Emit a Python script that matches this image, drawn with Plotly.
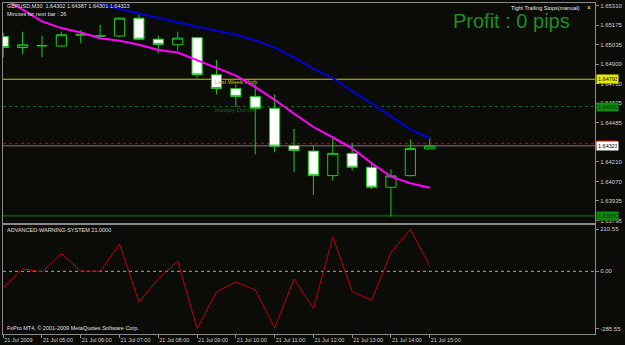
import plotly.graph_objects as go

# ---------------- data ----------------
bar_times = ["04:00", "04:30", "05:00", "05:30", "06:00", "06:30", "07:00", "07:30",
             "08:00", "08:30", "09:00", "09:30", "10:00", "10:30", "11:00", "11:30",
             "12:00", "12:30", "13:00", "13:30", "14:00", "14:30", "15:00"]
opens = [1.65095, 1.65017, 1.65029, 1.65027, 1.65105, 1.65098, 1.65098, 1.65224, 1.65076,
         1.65036, 1.65086, 1.64824, 1.64728, 1.64672, 1.64588, 1.64326, 1.64286, 1.64113,
         1.64270, 1.64172, 1.64031, 1.64113, 1.64302]
highs = [1.65123, 1.65128, 1.65100, 1.65128, 1.65140, 1.65177, 1.65228, 1.65247, 1.65100,
         1.65128, 1.65093, 1.64929, 1.64756, 1.64761, 1.64686, 1.64442, 1.64328, 1.64375,
         1.64340, 1.64200, 1.64158, 1.64368, 1.64387]
lows = [1.64947, 1.64971, 1.64947, 1.65024, 1.65046, 1.65095, 1.65090, 1.65074, 1.64978,
        1.64994, 1.64803, 1.64686, 1.64597, 1.64263, 1.64277, 1.64137, 1.63977, 1.64078,
        1.64148, 1.64017, 1.63825, 1.64106, 1.64301]
closes = [1.65017, 1.65036, 1.65030, 1.65107, 1.65107, 1.65099, 1.65224, 1.65076, 1.65039,
          1.65083, 1.64824, 1.64728, 1.64672, 1.64588, 1.64321, 1.64291, 1.64113, 1.64270,
          1.64172, 1.64031, 1.64111, 1.64305, 1.64323]
ma_fast = [1.65366, 1.65282, 1.65201, 1.65154, 1.65123, 1.65083, 1.65065, 1.65036, 1.64999,
           1.64982, 1.64929, 1.64875, 1.64819, 1.64737, 1.64648, 1.64550, 1.64456, 1.64382,
           1.64305, 1.64200, 1.64106, 1.64059, 1.64028]
ma_slow = [None, None, None, None, 1.65352, 1.65324, 1.65289, 1.65257, 1.65226, 1.65194,
           1.65163, 1.65135, 1.65107, 1.65068, 1.65015, 1.64945, 1.64868, 1.64800, 1.64707,
           1.64623, 1.64531, 1.64440, 1.64375]
aws_values = [-81.2, 12.0, -3.0, 89.0, 1.0, 0.5, 137.1, -152.6, -36.5, 50.8, -285.55, -103.0,
              -53.4, -93.1, -282.4, -38.9, -185.3, 171.9, -101.6, -144.2, 92.5, 210.55, 26.0]

price_ticks = [1.65310, 1.65175, 1.65035, 1.64900, 1.64760, 1.64625, 1.64485, 1.64350,
               1.64210, 1.64070, 1.63935, 1.63795]
price_tick_labels = ["1.65310", "1.65175", "1.65035", "1.64900", "1.64760", "1.64625",
                     "1.64485", "", "1.64210", "1.64070", "1.63935", "1.63795"]
time_tick_labels = ["21 Jul 2009", "21 Jul 05:00", "21 Jul 06:00", "21 Jul 07:00",
                    "21 Jul 08:00", "21 Jul 09:00", "21 Jul 10:00", "21 Jul 11:00",
                    "21 Jul 12:00", "21 Jul 13:00", "21 Jul 14:00", "21 Jul 15:00"]
sub_ticks = [210.55, 0.0, -285.55]
sub_tick_labels = ["210.55", "0.00", "-285.55"]

last_week_high = 1.64793
humpty_dumpty = 1.64600
red_level = 1.64340
bid_price = 1.64323
lower_level = 1.63830
level_names = ["Last Week High", "Humpty Dumpty"]

# ---------------- figure ----------------
BG = "#0b0b08"
GRID = "#8a8a8a"
TXT = "#cfcfcf"
FONT = "Liberation Sans, Arial, sans-serif"

idx = list(range(len(bar_times)))
tick_idx = [bar_times.index(t) for t in ["04:00", "05:00", "06:00", "07:00", "08:00", "09:00",
                                          "10:00", "11:00", "12:00", "13:00", "14:00", "15:00"]]

fig = go.Figure()

# level names drawn first so candles cover them (as in the terminal)
fig.add_trace(go.Scatter(
    x=[12, 12], y=[last_week_high - 0.00023, humpty_dumpty - 0.00030], mode="text",
    text=level_names, textposition="middle center", xaxis="x", yaxis="y",
    textfont=dict(size=6, color=["#c8c800", "#1a6a1a"], family=FONT),
    showlegend=False, hoverinfo="skip"))

fig.add_trace(go.Candlestick(
    x=idx, open=opens, high=highs, low=lows, close=closes,
    xaxis="x", yaxis="y",
    increasing=dict(line=dict(color="#1ec81e", width=1), fillcolor=BG),
    decreasing=dict(line=dict(color="#1ec81e", width=1), fillcolor="#ffffff"),
    whiskerwidth=0, showlegend=False, hoverinfo="skip"))

fig.add_trace(go.Scatter(x=idx, y=ma_slow, mode="lines", xaxis="x", yaxis="y",
                         line=dict(color="#0000d2", width=2), showlegend=False, hoverinfo="skip"))
fig.add_trace(go.Scatter(x=idx, y=ma_fast, mode="lines", xaxis="x", yaxis="y",
                         line=dict(color="#ff00ff", width=2), showlegend=False, hoverinfo="skip"))

fig.add_trace(go.Scatter(x=idx, y=aws_values, mode="lines", xaxis="x2", yaxis="y2",
                         line=dict(color="#c00000", width=1), showlegend=False, hoverinfo="skip"))

# horizontal levels
def hline(y, color, dash, width, yref="y", xref="x"):
    fig.add_shape(type="line", xref=f"{xref} domain", yref=yref, x0=0, x1=1, y0=y, y1=y,
                  line=dict(color=color, width=width, dash=dash), layer="below")

hline(last_week_high, "#c8c800", "solid", 1)
hline(humpty_dumpty, "#087808", "dot", 1)
hline(red_level, "#b00000", "dot", 1.5)
hline(bid_price, "#7a7a7a", "solid", 1)
hline(lower_level, "#0e4a0e", "solid", 2)
hline(0, "#a8a8a8", "3px,3px", 1, yref="y2", xref="x2")

x_range = [-0.01, -0.01 + 600 / 19.65]
main_bottom = (335 - 223) / 333
sub_top = (335 - 225) / 333

fig.update_layout(
    width=625, height=345,
    margin=dict(l=2, r=23, t=2, b=10),
    paper_bgcolor=BG, plot_bgcolor=BG,
    boxgap=0.25,
    font=dict(family=FONT, size=6, color=TXT),
    xaxis=dict(domain=[0, 1], anchor="y", range=x_range, showticklabels=False, ticks="",
               showgrid=False, zeroline=False, showline=True, mirror=True, linecolor=GRID,
               linewidth=1, rangeslider=dict(visible=False)),
    yaxis=dict(domain=[main_bottom, 1], anchor="x", side="right",
               range=[1.63781, 1.65331], tickvals=price_ticks, ticktext=price_tick_labels,
               ticks="outside", ticklen=3, tickcolor=GRID, showgrid=False, zeroline=False,
               showline=True, mirror=True, linecolor=GRID, linewidth=1,
               tickfont=dict(size=6, color=TXT)),
    xaxis2=dict(domain=[0, 1], anchor="y2", range=x_range, tickvals=[idx[i] for i in tick_idx],
                ticktext=time_tick_labels, ticklabelposition="outside right", tickangle=0,
                ticks="outside", ticklen=3, tickcolor=GRID, showgrid=False, zeroline=False,
                showline=True, mirror=True, linecolor=GRID, linewidth=1,
                tickfont=dict(size=5.5, color=TXT)),
    yaxis2=dict(domain=[0, sub_top], anchor="x2", side="right", range=[-312.8, 232.9],
                tickvals=sub_ticks, ticktext=sub_tick_labels, ticks="outside", ticklen=3,
                tickcolor=GRID, showgrid=False, zeroline=False, showline=True, mirror=True,
                linecolor=GRID, linewidth=1, tickfont=dict(size=6, color=TXT)),
)

def px_x(p):
    return (p - 2) / 600

def px_y(p):
    return (335 - p) / 333

ann = []
ann.append(dict(xref="paper", yref="paper", x=px_x(4), y=px_y(5.5), xanchor="left", yanchor="middle",
                text="GBPUSD,M30  1.64302 1.64387 1.64301 1.64323", showarrow=False,
                font=dict(size=5.5, color="#e0e0e0")))
ann.append(dict(xref="paper", yref="paper", x=px_x(4), y=px_y(13), xanchor="left", yanchor="middle",
                text="Minutes for next bar : 26", showarrow=False, font=dict(size=5.5, color="#e0e0e0")))
ann.append(dict(xref="paper", yref="paper", x=px_x(589), y=px_y(7), xanchor="right", yanchor="middle",
                text="Tight Trailing Stops(manual)", showarrow=False, font=dict(size=5.5, color="#e8e8e8")))
ann.append(dict(xref="paper", yref="paper", x=px_x(596), y=px_y(7), xanchor="center", yanchor="middle",
                text="×", showarrow=False, font=dict(size=7, color="#e8e8e8")))
ann.append(dict(xref="paper", yref="paper", x=px_x(579), y=px_y(20), xanchor="right", yanchor="middle",
                text="Profit : 0 pips", showarrow=False,
                font=dict(size=20, color="#1f8f1f", family="Liberation Sans, Arial, sans-serif")))
ann.append(dict(xref="paper", yref="paper", x=px_x(4), y=px_y(230.5), xanchor="left", yanchor="middle",
                text="ADVANCED-WARNING-SYSTEM 21.0000", showarrow=False, font=dict(size=5.5, color="#e0e0e0")))
ann.append(dict(xref="paper", yref="paper", x=px_x(4), y=px_y(329), xanchor="left", yanchor="middle",
                text="FxPro MT4, © 2001-2009 MetaQuotes Software Corp.", showarrow=False,
                font=dict(size=5.5, color="#e0e0e0")))

# price boxes on the right axis (red stop box sits under the bid box)
ann.append(dict(xref="paper", yref="y", x=1, y=red_level, xanchor="left", yanchor="middle",
                xshift=1, text=" ", showarrow=False, bgcolor="#ff0000", borderpad=0,
                width=20, height=5, font=dict(size=4, color="#ff0000")))
boxes = [(last_week_high, "#e8e800", "#000000"),
         (humpty_dumpty, "#0f8a0f", "#003300"),
         (bid_price, "#ffffff", "#000000"),
         (lower_level, "#0f8a0f", "#003300")]
for val, bg, fg in boxes:
    ann.append(dict(xref="paper", yref="y", x=1, y=val, xanchor="left", yanchor="middle",
                    xshift=1, text=f"{val:.5f}", showarrow=False, bgcolor=bg, borderpad=1,
                    width=19, align="left", font=dict(size=5.5, color=fg)))

fig.update_layout(annotations=ann)

fig.write_html("out.html")
